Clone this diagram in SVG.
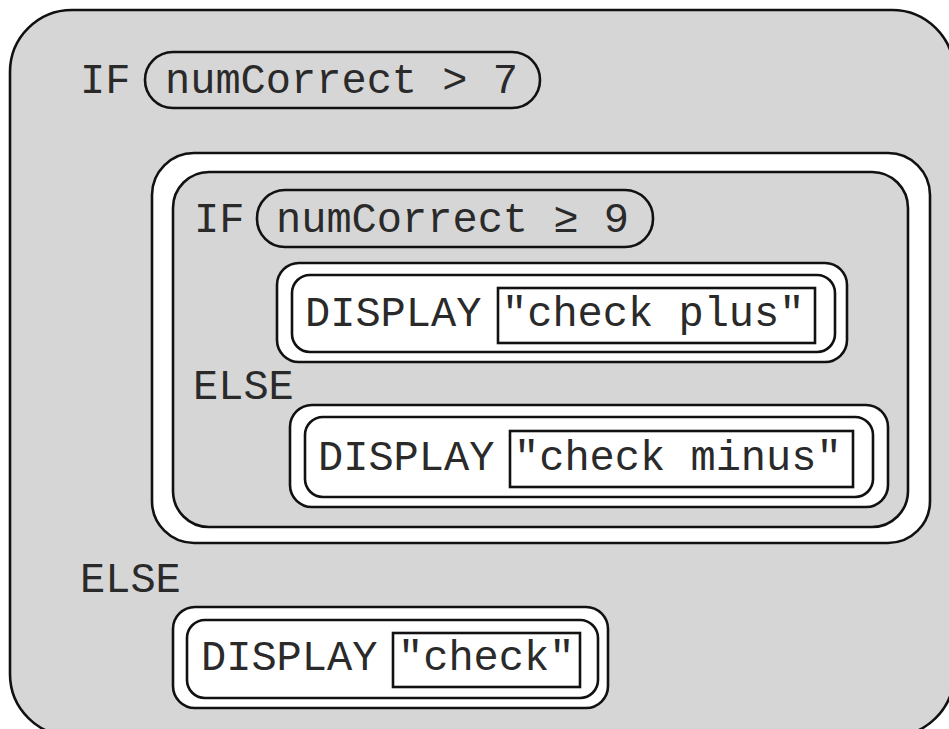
<svg xmlns="http://www.w3.org/2000/svg" width="949" height="729" viewBox="0 0 949 729">
  <style>
    .ln { stroke: #111; stroke-width: 2.6; }
    .gray { fill: #d6d6d6; }
    .white { fill: #ffffff; }
    .none { fill: none; }
    text { font-family: "Liberation Mono", "DejaVu Sans Mono", monospace; font-size: 42px; fill: #2a2a2a; }
  </style>
  <rect width="949" height="729" fill="#ffffff"/>
  <g id="outer-if">
    <rect class="gray ln" x="10" y="10" width="944" height="726" rx="62"/>
    <text x="80" y="93">IF</text>
  </g>
  <g id="cond-outer">
    <rect class="none ln" x="145" y="52" width="395" height="56" rx="28"/>
    <text x="165" y="93">numCorrect &gt; 7</text>
  </g>
  <g id="inner-if-block">
    <rect class="white ln" x="152" y="153" width="778" height="390" rx="42"/>
    <rect class="gray ln" x="173" y="172" width="735" height="355" rx="36"/>
    <text x="194" y="232">IF</text>
  </g>
  <g id="cond-inner">
    <rect class="none ln" x="257" y="190" width="396" height="57" rx="28"/>
    <text x="276" y="232">numCorrect ≥ 9</text>
  </g>
  <g id="display-check-plus">
    <rect class="white ln" x="277" y="263" width="570" height="99" rx="22"/>
    <rect class="white ln" x="292" y="275" width="543" height="77" rx="18"/>
    <rect class="white ln" x="498" y="288" width="317" height="55"/>
    <text x="305" y="326">DISPLAY</text>
    <text x="502" y="326">"check plus"</text>
  </g>
  <g id="inner-else">
    <text x="193" y="399">ELSE</text>
  </g>
  <g id="display-check-minus">
    <rect class="white ln" x="290" y="405" width="598" height="102" rx="22"/>
    <rect class="white ln" x="305" y="417" width="568" height="80" rx="18"/>
    <rect class="white ln" x="510" y="431" width="343" height="56"/>
    <text x="318" y="470">DISPLAY</text>
    <text x="514" y="470">"check minus"</text>
  </g>
  <g id="outer-else">
    <text x="80" y="592">ELSE</text>
  </g>
  <g id="display-check">
    <rect class="white ln" x="173" y="607" width="435" height="101" rx="22"/>
    <rect class="white ln" x="187" y="620" width="411" height="78" rx="18"/>
    <rect class="white ln" x="393" y="633" width="187" height="54"/>
    <text x="201" y="670">DISPLAY</text>
    <text x="398" y="670">"check"</text>
  </g>
  <g id="connectors"></g>
</svg>
